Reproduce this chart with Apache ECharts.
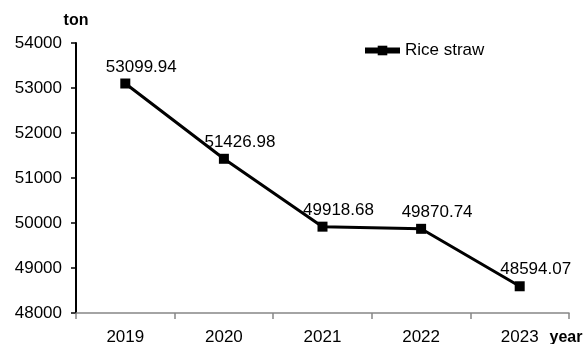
<html>
<head>
<meta charset="utf-8">
<script src="https://cdn.jsdelivr.net/npm/echarts@6/dist/echarts.min.js"></script>
</head>
<body>
<style>
    html, body, #main {
        width: 100%;
        height: 100%;
        margin: 0;
        background: #fff;
    }
</style>
<div id="main"></div>
<script>

var years = ['2019', '2020', '2021', '2022', '2023'];
var riceStraw = [53099.94, 51426.98, 49918.68, 49870.74, 48594.07];
var seriesName = 'Rice straw';

var font = '"Liberation Sans", Arial, sans-serif';

var chart = echarts.init(document.getElementById('main'));

chart.setOption({
    animation: false,
    textStyle: { fontFamily: font },
    grid: {
        left: 76,
        right: 18,
        top: 43,
        bottom: 31,
        outerBoundsMode: 'none'
    },
    legend: {
        left: 362,
        top: 42,
        padding: 0,
        itemWidth: 35,
        itemHeight: 12,
        itemGap: 5,
        lineStyle: { width: 6 },
        textStyle: { fontSize: 17, color: '#000', fontFamily: font },
        data: [seriesName]
    },
    xAxis: {
        type: 'category',
        data: years,
        boundaryGap: true,
        name: 'year',
        nameLocation: 'end',
        nameGap: -3,
        nameTextStyle: {
            fontSize: 16,
            fontWeight: 'bold',
            color: '#000',
            align: 'center',
            verticalAlign: 'top',
            padding: [17, 0, 0, 0]
        },
        axisLine: { lineStyle: { color: '#868686', width: 1.5 } },
        axisTick: { show: true, length: 6, lineStyle: { color: '#868686', width: 1.5 } },
        axisLabel: { fontSize: 17, color: '#000', margin: 16 }
    },
    yAxis: {
        type: 'value',
        min: 48000,
        max: 54000,
        interval: 1000,
        name: 'ton',
        nameLocation: 'end',
        nameGap: 14,
        nameTextStyle: {
            fontSize: 16,
            fontWeight: 'bold',
            color: '#000',
            align: 'center'
        },
        splitLine: { show: false },
        axisLine: { show: true, lineStyle: { color: '#000', width: 2 } },
        axisTick: { show: true, length: 5, lineStyle: { color: '#000', width: 1.5 } },
        axisLabel: {
            fontSize: 17,
            color: '#000',
            margin: 14,
            formatter: function (v) { return String(v); }
        }
    },
    series: [
        {
            name: seriesName,
            type: 'line',
            data: riceStraw,
            symbol: 'rect',
            symbolSize: 10,
            lineStyle: { color: '#000', width: 3 },
            itemStyle: { color: '#000' },
            label: {
                show: true,
                position: 'top',
                distance: 3,
                offset: [16, 0],
                fontSize: 17,
                color: '#000',
                fontFamily: font
            }
        }
    ]
});

</script>
</body>
</html>
